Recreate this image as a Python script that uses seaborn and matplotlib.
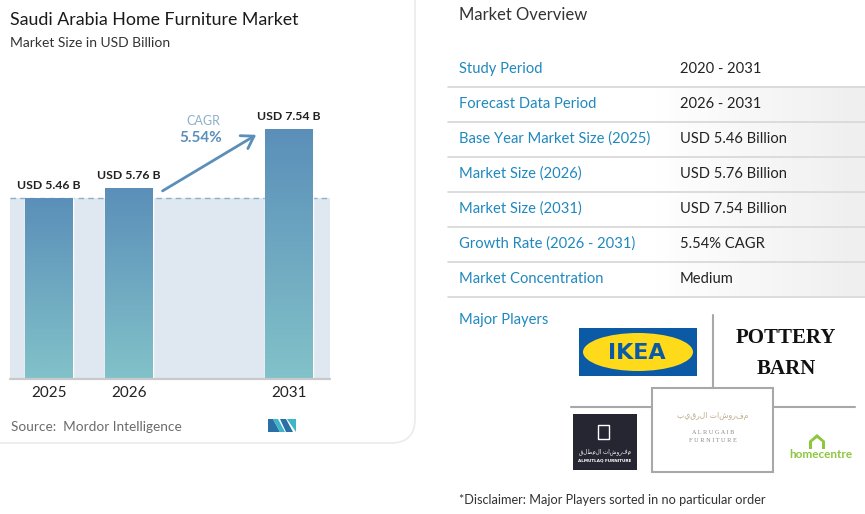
import numpy as np
import pandas as pd
import matplotlib
matplotlib.use('Agg')
import matplotlib.pyplot as plt
import seaborn as sns
from matplotlib.patches import Rectangle, FancyBboxPatch, Ellipse, Polygon
from matplotlib.colors import LinearSegmentedColormap

# data
years = ['2025', '2026', '2031']
market_size = [5.46, 5.76, 7.54]
slot_order = ['2025', '2026', ' ', '2031']
cagr = '5.54%'

overview_labels = ['Study Period', 'Forecast Data Period', 'Base Year Market Size (2025)',
                   'Market Size (2026)', 'Market Size (2031)', 'Growth Rate (2026 - 2031)',
                   'Market Concentration']
overview_values = ['2020 - 2031', '2026 - 2031', 'USD 5.46 Billion', 'USD 5.76 Billion',
                   'USD 7.54 Billion', '5.54% CAGR', 'Medium']

W, H = 865, 514
sns.set_theme(style='white')
plt.rcParams['font.family'] = ['Lato', 'DejaVu Sans']

fig = plt.figure(figsize=(W / 100, H / 100), dpi=100)
bg = fig.add_axes([0, 0, 1, 1])
bg.set_xlim(0, W)
bg.set_ylim(H, 0)
bg.axis('off')


def fig_box(x0, y0, x1, y1):
    return [x0 / W, 1 - y1 / H, (x1 - x0) / W, (y1 - y0) / H]


# left card
bg.add_patch(FancyBboxPatch((-40, -40), 455, 483, boxstyle='round,pad=0,rounding_size=24',
                            fc='white', ec='#ebebeb', lw=1.2))

bg.text(10, 20, 'Saudi Arabia Home Furniture Market', fontsize=12.8, color='#1a1a1a',
        va='center', ha='left')
bg.text(10, 43, 'Market Size in USD Billion', fontsize=10, color='#333333', va='center')

# bar chart
ax = fig.add_axes(fig_box(10, 100, 330, 379))
ax.patch.set_alpha(0)
df = pd.DataFrame({'year': years, 'size': market_size})
sns.barplot(data=df, x='year', y='size', order=slot_order, width=0.59, color='#6a9fc0',
            saturation=1, ax=ax, zorder=1)
bars = list(ax.containers[0])
ax.axhspan(0, market_size[0], color='#dfe8f0', zorder=0, lw=0)
ax.axhline(market_size[0], ls=(0, (4, 3)), color='#8db0c9', lw=1, zorder=0.5)

grad_cmap = LinearSegmentedColormap.from_list('bars', ['#5b8fb9', '#82c2c9'])
grad = np.linspace(0, 1, 256).reshape(-1, 1)
for bar in bars:
    x0, w, h = bar.get_x(), bar.get_width(), bar.get_height()
    im = ax.imshow(grad, extent=[x0, x0 + w, 0, h], origin='upper', cmap=grad_cmap,
                   aspect='auto', zorder=2)
    im.set_clip_path(bar)

ax.bar_label(ax.containers[0], labels=[f'USD {v:.2f} B' for v in market_size], padding=5,
             fontsize=8.8, fontweight='bold', color='#222222')
ax.annotate('', xy=(3 - 0.38, market_size[2] - 0.12), xytext=(1 + 0.39, market_size[1] - 0.12),
            arrowprops=dict(arrowstyle='->,head_length=0.7,head_width=0.45', color='#5b8fb9',
                            lw=2), zorder=3)
ax.axhline(0, color='#c9c9c9', lw=1.6, clip_on=False, zorder=3)
ax.set_xlim(-0.4875, 3.5125)
ax.set_ylim(0, 279 / 33.1)
ax.set_xlabel('')
ax.set_ylabel('')
ax.set_yticks([])
ax.tick_params(axis='x', length=0, pad=5, labelsize=11, labelcolor='#222222')
sns.despine(ax=ax, left=True, bottom=True)

bg.text(203, 121, 'CAGR', fontsize=9, color='#8db0c9', ha='center', va='center')
bg.text(201, 138, cagr, fontsize=11, color='#5b8fb9', fontweight='bold', ha='center', va='center')

bg.text(11, 427, 'Source:  Mordor Intelligence', fontsize=9.8, color='#6b6b6b', va='center')
# small logo
bg.add_patch(Polygon([(268, 419), (273, 419), (280, 432), (268, 432)], fc='#2a6fa6', lw=0))
bg.add_patch(Polygon([(273, 419), (278, 419), (285, 432), (280, 432)], fc='#3fb6c8', lw=0))
bg.add_patch(Polygon([(280, 419), (286, 419), (293, 432), (286, 432)], fc='#2a6fa6', lw=0))
bg.add_patch(Polygon([(287, 419), (296, 419), (296, 432)], fc='#3fb6c8', lw=0))

# right panel: overview table
bg.text(459, 15, 'Market Overview', fontsize=12, color='#333333', va='center')
row_grad = LinearSegmentedColormap.from_list('rowg', ['#ffffff', '#ffffff', '#ebebeb'])
for i, (lab, val) in enumerate(zip(overview_labels, overview_values)):
    y = 69 + 35 * i
    if i > 0:
        bg.imshow(np.linspace(0, 1, 256).reshape(1, -1), extent=[448, 865, y + 17, y - 17],
                  cmap=row_grad, aspect='auto', zorder=0, alpha=0.8)
    bg.text(459, y, lab, fontsize=10.6, color='#1f88bf', va='center')
    bg.text(680, y, val, fontsize=10.6, color='#222222', va='center')
    bg.plot([448, 865], [y + 17.5, y + 17.5], color='#d6d6d6', lw=1.2)
bg.set_xlim(0, W)
bg.set_ylim(H, 0)

bg.text(459, 320, 'Major Players', fontsize=10.6, color='#1f88bf', va='center')

# player logos
bg.add_patch(Rectangle((579, 328), 118, 48, fc='#0a5aa6', lw=0))
bg.add_patch(Ellipse((638, 352), 110, 38, fc='#ffda1a', lw=0))
bg.text(637, 353, 'IKEA', fontsize=16, fontweight='heavy', color='#0a5aa6', ha='center',
        va='center', family='DejaVu Sans')
bg.text(786, 338, 'POTTERY', fontsize=15, color='#111111', ha='center', va='center',
        family='Liberation Serif', fontweight='bold')
bg.text(786, 369, 'BARN', fontsize=15, color='#111111', ha='center', va='center',
        family='Liberation Serif', fontweight='bold')
bg.plot([713, 713], [315, 387], color='#a8a8a8', lw=1.5)
bg.plot([571, 652], [407, 407], color='#a8a8a8', lw=1.5)
bg.plot([773, 855], [407, 407], color='#a8a8a8', lw=1.5)
bg.add_patch(Rectangle((652, 388), 121, 84, fc='white', ec='#a8a8a8', lw=1.5))
bg.add_patch(Rectangle((573, 414), 64, 56, fc='#262633', lw=0))
bg.add_patch(Rectangle((598, 425), 11, 14, fc='none', ec='white', lw=1))
bg.text(605, 452, 'مفروشات المطلق'[::-1], fontsize=4, color='white', ha='center',
        va='center', family='DejaVu Sans')
bg.text(605, 461, 'ALMUTLAQ FURNITURE', fontsize=3, color='white', ha='center', va='center',
        family='DejaVu Sans', fontweight='bold')
bg.text(713, 416, 'مفروشات الرقيب'[::-1], fontsize=5.5, color='#bcae8c', ha='center',
        va='center', family='DejaVu Sans')
bg.text(713, 432, 'A L R U G A I B', fontsize=4.5, color='#8a8a8a', ha='center', va='center',
        family='Liberation Serif')
bg.text(713, 441, 'F U R N I T U R E', fontsize=4.5, color='#8a8a8a', ha='center',
        va='center', family='Liberation Serif')
bg.add_patch(Polygon([(809, 449), (809, 441), (817, 434), (825, 441), (825, 449), (822, 449),
                      (822, 442), (817, 438), (812, 442), (812, 449)], fc='#8dc63f', lw=0))
bg.text(821, 455, 'homecentre', fontsize=8.5, color='#8dc63f', ha='center', va='center',
        fontweight='bold')

bg.text(459, 500, '*Disclaimer: Major Players sorted in no particular order', fontsize=9.2,
        color='#333333', va='center')

fig.savefig('out.png', dpi=100)
